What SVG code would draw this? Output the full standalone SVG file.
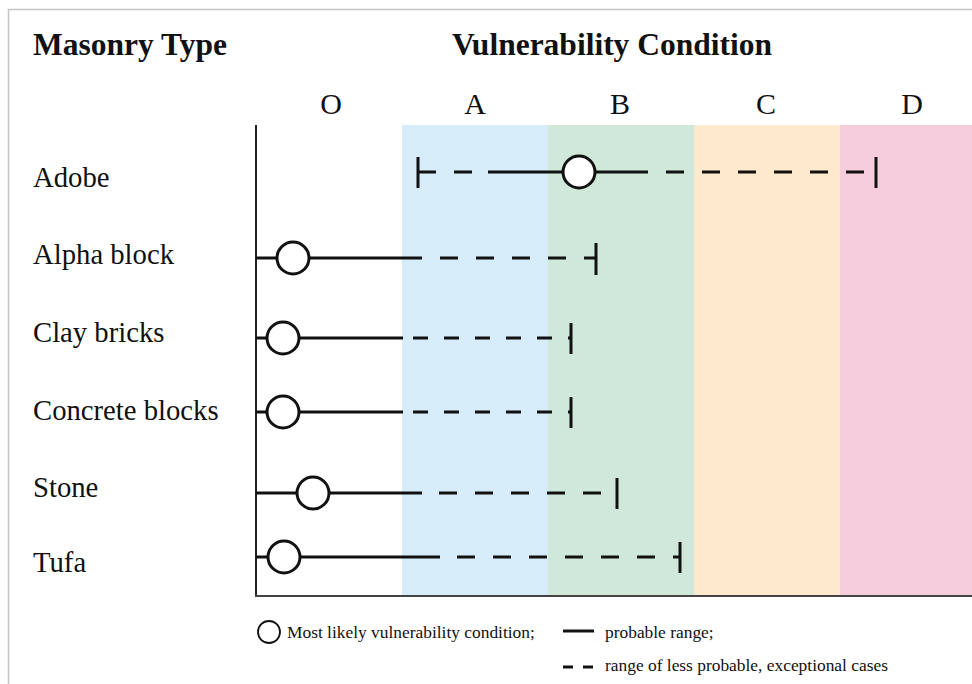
<svg xmlns="http://www.w3.org/2000/svg" width="972" height="684" viewBox="0 0 972 684">
<style>
.hdr{font-family:"Liberation Serif","Times New Roman",serif;font-weight:bold;font-size:31.5px;fill:#111}
.col{font-family:"Liberation Serif","Times New Roman",serif;font-size:30px;fill:#111;text-anchor:middle}
.lbl{font-family:"Liberation Serif","Times New Roman",serif;font-size:28.7px;fill:#111}
.leg{font-family:"Liberation Serif","Times New Roman",serif;font-size:17.4px;fill:#111}
.solid{stroke:#111;stroke-width:3;fill:none}
.dash{stroke:#111;stroke-width:3;fill:none;stroke-dasharray:18 18}
.dashs{stroke:#111;stroke-width:3;fill:none;stroke-dasharray:15 16}
.tick{stroke:#111;stroke-width:3}
.mark{fill:#fff;stroke:#111;stroke-width:3}
</style>
<rect x="0" y="0" width="972" height="684" fill="#fff"/>
<path d="M8.5 684 V9.5 H972" fill="none" stroke="#c4c4c4" stroke-width="1.5"/>
<g id="bands">
<rect x="402" y="125" width="146" height="471" fill="#d6ecf8"/>
<rect x="548" y="125" width="146" height="471" fill="#cfe8d9"/>
<rect x="694" y="125" width="146" height="471" fill="#fde9cc"/>
<rect x="840" y="125" width="132" height="471" fill="#f6cddc"/>
</g>
<g id="axes">
<line x1="256" y1="125" x2="256" y2="596" stroke="#222" stroke-width="2"/>
<line x1="255" y1="596" x2="972" y2="596" stroke="#444" stroke-width="2"/>
</g>
<g id="headers">
<text class="hdr" x="33" y="55">Masonry Type</text>
<text class="hdr" x="452" y="55">Vulnerability Condition</text>
<text class="col" x="331" y="114">O</text>
<text class="col" x="475" y="114">A</text>
<text class="col" x="620" y="114">B</text>
<text class="col" x="766" y="114">C</text>
<text class="col" x="912" y="114">D</text>
</g>
<g id="connectors">
<line class="tick" x1="418" y1="157" x2="418" y2="188"/>
<line class="dash" x1="418" y1="172" x2="488" y2="172" stroke-dasharray="14 17 18 17"/>
<line class="solid" x1="488" y1="172" x2="648" y2="172"/>
<line class="dash" x1="666" y1="172" x2="876" y2="172" stroke-dasharray="18 17"/>
<line class="tick" x1="876" y1="157" x2="876" y2="188"/>

<line class="solid" x1="256" y1="258" x2="422" y2="258"/>
<line class="dash" x1="440" y1="258" x2="596" y2="258" stroke-dasharray="18 18.7"/>
<line class="tick" x1="596" y1="243" x2="596" y2="275"/>

<line class="solid" x1="256" y1="338" x2="403" y2="338"/>
<line class="dashs" x1="413" y1="338" x2="571" y2="338" stroke-dasharray="8 16.5 15 16.5 15 16.5 15 16.5 15 16.5 15 16.5"/>
<line class="tick" x1="571" y1="323" x2="571" y2="354"/>

<line class="solid" x1="256" y1="412" x2="403" y2="412"/>
<line class="dashs" x1="413" y1="412" x2="571" y2="412" stroke-dasharray="8 16.5 15 16.5 15 16.5 15 16.5 15 16.5 15 16.5"/>
<line class="tick" x1="571" y1="397" x2="571" y2="428"/>

<line class="solid" x1="256" y1="493" x2="422" y2="493"/>
<line class="dash" x1="439" y1="493" x2="617" y2="493" stroke-dasharray="17.5 16.5"/>
<line class="tick" x1="617" y1="478" x2="617" y2="509"/>

<line class="solid" x1="256" y1="557" x2="440" y2="557"/>
<line class="dash" x1="457" y1="557" x2="680" y2="557" stroke-dasharray="17 19"/>
<line class="tick" x1="680" y1="542" x2="680" y2="573"/>
</g>
<g id="adobe"><text class="lbl" x="33" y="187">Adobe</text><circle class="mark" cx="579" cy="172" r="16"/></g>
<g id="alpha-block"><text class="lbl" x="33" y="264">Alpha block</text><circle class="mark" cx="293" cy="258" r="16"/></g>
<g id="clay-bricks"><text class="lbl" x="33" y="342">Clay bricks</text><circle class="mark" cx="283" cy="338" r="16"/></g>
<g id="concrete-blocks"><text class="lbl" x="33" y="420">Concrete blocks</text><circle class="mark" cx="283" cy="412" r="16"/></g>
<g id="stone"><text class="lbl" x="33" y="497">Stone</text><circle class="mark" cx="313" cy="493" r="16"/></g>
<g id="tufa"><text class="lbl" x="33" y="572">Tufa</text><circle class="mark" cx="284" cy="557" r="16"/></g>
<g id="legend">
<circle cx="269" cy="632" r="11" fill="#fff" stroke="#111" stroke-width="1.8"/>
<text class="leg" x="287" y="638">Most likely vulnerability condition;</text>
<line x1="563" y1="631" x2="594" y2="631" stroke="#111" stroke-width="3"/>
<text class="leg" x="605" y="638">probable range;</text>
<line x1="563" y1="667" x2="573" y2="667" stroke="#111" stroke-width="3"/>
<line x1="583" y1="667" x2="593" y2="667" stroke="#111" stroke-width="3"/>
<text class="leg" x="605" y="671">range of less probable, exceptional cases</text>
</g>
</svg>
